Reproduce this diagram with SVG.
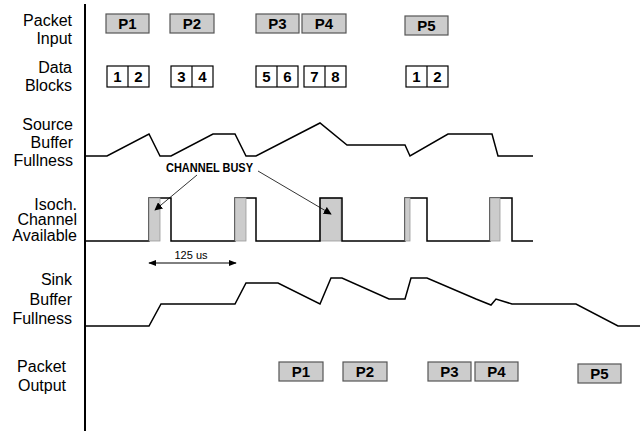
<svg xmlns="http://www.w3.org/2000/svg" width="644" height="431" viewBox="0 0 644 431">
<defs>
<style>
.lbl{font-family:"Liberation Sans",Arial,sans-serif;font-size:16px;fill:#000;text-anchor:end}
.pk{fill:#cccccc;stroke:#555;stroke-width:1.2}
.pt{font-family:"Liberation Sans",Arial,sans-serif;font-size:15px;font-weight:bold;fill:#000;text-anchor:middle}
.db{fill:#fff;stroke:#000;stroke-width:1.2}
.wave{fill:none;stroke:#000;stroke-width:1.5;stroke-linejoin:miter}
.busy{fill:#cccccc;stroke:#999;stroke-width:0.8}
.thin{fill:none;stroke:#000;stroke-width:1.2}
</style>
<marker id="ah" viewBox="0 0 10 10" refX="9" refY="5" markerWidth="8" markerHeight="8" orient="auto" markerUnits="userSpaceOnUse">
<path d="M0,0 L10,5 L0,10 z" fill="#000"/>
</marker>
<marker id="ah2" viewBox="0 0 10 10" refX="9" refY="5" markerWidth="8" markerHeight="8" orient="auto-start-reverse" markerUnits="userSpaceOnUse">
<path d="M0,1 L10,5 L0,9 z" fill="#000"/>
</marker>
</defs>
<rect width="644" height="431" fill="#fff"/>
<g id="axis"><line x1="85" y1="4" x2="85" y2="431" stroke="#000" stroke-width="2"/></g>
<g id="labels">
<text class="lbl" x="72" y="25.5">Packet</text><text class="lbl" x="72" y="43.5">Input</text>
<text class="lbl" x="72" y="73">Data</text><text class="lbl" x="72" y="90.5">Blocks</text>
<text class="lbl" x="73" y="130">Source</text><text class="lbl" x="73" y="148">Buffer</text><text class="lbl" x="73" y="166">Fullness</text>
<text class="lbl" x="77" y="209.5">Isoch.</text><text class="lbl" x="77" y="225">Channel</text><text class="lbl" x="77" y="240.5">Available</text>
<text class="lbl" x="72" y="285">Sink</text><text class="lbl" x="72" y="304.5">Buffer</text><text class="lbl" x="72" y="324">Fullness</text>
<text class="lbl" x="66" y="371.5">Packet</text><text class="lbl" x="66" y="391">Output</text>
</g>
<g id="packet-input">
<g id="in-p1"><rect class="pk" x="106" y="14" width="43" height="19"/><text class="pt" x="127.5" y="29">P1</text></g>
<g id="in-p2"><rect class="pk" x="170" y="14" width="44" height="19"/><text class="pt" x="192" y="29">P2</text></g>
<g id="in-p3"><rect class="pk" x="256" y="14" width="43" height="19"/><text class="pt" x="277.5" y="29">P3</text></g>
<g id="in-p4"><rect class="pk" x="302" y="14" width="44" height="19"/><text class="pt" x="324" y="29">P4</text></g>
<g id="in-p5"><rect class="pk" x="405" y="16" width="43" height="19"/><text class="pt" x="426.5" y="31">P5</text></g>
</g>
<g id="data-blocks">
<g id="db-12"><rect class="db" x="107" y="66" width="42" height="21"/><line class="thin" x1="128" y1="66" x2="128" y2="87"/><text class="pt" x="117.5" y="82">1</text><text class="pt" x="138.5" y="82">2</text></g>
<g id="db-34"><rect class="db" x="171" y="66" width="42" height="21"/><line class="thin" x1="192" y1="66" x2="192" y2="87"/><text class="pt" x="181.5" y="82">3</text><text class="pt" x="202.5" y="82">4</text></g>
<g id="db-56"><rect class="db" x="256" y="66" width="42" height="21"/><line class="thin" x1="277" y1="66" x2="277" y2="87"/><text class="pt" x="266.5" y="82">5</text><text class="pt" x="287.5" y="82">6</text></g>
<g id="db-78"><rect class="db" x="304" y="66" width="42" height="21"/><line class="thin" x1="325" y1="66" x2="325" y2="87"/><text class="pt" x="314.5" y="82">7</text><text class="pt" x="335.5" y="82">8</text></g>
<g id="db-12b"><rect class="db" x="406" y="66" width="42" height="21"/><line class="thin" x1="427" y1="66" x2="427" y2="87"/><text class="pt" x="416.5" y="82">1</text><text class="pt" x="437.5" y="82">2</text></g>
</g>
<g id="source-buffer">
<polyline class="wave" points="85,156 107,156 149,134 160,156 171,156 213,134 235,134 246,156 256,156 320,123 347,145 405,145 410,156 448,134 492,134 498,156 533,156"/>
</g>
<g id="channel">
<rect class="busy" x="320" y="198" width="21" height="43"/>
<polyline class="wave" points="85,241 149,241 149,198 171,198 171,241 235,241 235,198 256,198 256,241 320,241 320,198 342,198 342,241 405,241 405,198 427,198 427,241 490,241 490,198 512,198 512,241 533,241"/>
<rect class="busy" x="149" y="198" width="11" height="43"/>
<rect class="busy" x="235" y="198" width="11" height="43"/>
<rect class="busy" x="405" y="198" width="5" height="43"/>
<rect class="busy" x="490" y="198" width="10" height="43"/>
</g>
<g id="sink-buffer">
<polyline class="wave" points="85,326 149,326 161,304 235,304 246,283 278,283 320,304 331,278 342,278 389,299 405,299 411,278 427,278 476,299 491,305 496,299 512,304 576,304 618,326 640,326"/>
</g>
<g id="packet-output">
<g id="out-p1"><rect class="pk" x="279" y="362" width="44" height="19"/><text class="pt" x="301" y="377">P1</text></g>
<g id="out-p2"><rect class="pk" x="343" y="362" width="44" height="19"/><text class="pt" x="365" y="377">P2</text></g>
<g id="out-p3"><rect class="pk" x="428" y="362" width="43" height="19"/><text class="pt" x="449.5" y="377">P3</text></g>
<g id="out-p4"><rect class="pk" x="475" y="362" width="43" height="19"/><text class="pt" x="496.5" y="377">P4</text></g>
<g id="out-p5"><rect class="pk" x="578" y="364" width="43" height="19"/><text class="pt" x="599.5" y="379">P5</text></g>
</g>
<g id="annotations">
<text x="209.5" y="172" font-family="Liberation Sans,Arial,sans-serif" font-size="12" font-weight="bold" text-anchor="middle" textLength="87" lengthAdjust="spacingAndGlyphs">CHANNEL BUSY</text>
<text x="191" y="258.5" font-family="Liberation Sans,Arial,sans-serif" font-size="11" text-anchor="middle">125 us</text>
</g>
<g id="connectors">
<line x1="197" y1="175" x2="155" y2="210" stroke="#000" stroke-width="0.8" marker-end="url(#ah)"/>
<line x1="258" y1="171" x2="331" y2="214" stroke="#000" stroke-width="0.8" marker-end="url(#ah)"/>
<line x1="149" y1="263" x2="236" y2="263" stroke="#000" stroke-width="1" marker-start="url(#ah2)" marker-end="url(#ah2)"/>
</g>
</svg>
